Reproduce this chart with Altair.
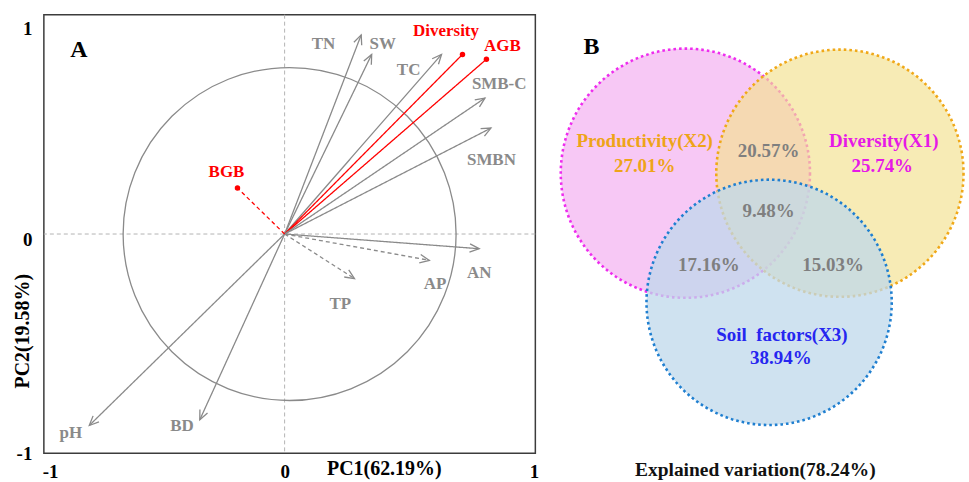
import math
import altair as alt
import pandas as pd

# ---------------- Panel A: PCA biplot ----------------
variables = ["TN", "SW", "TC", "Diversity", "AGB", "SMB-C", "SMBN", "AN", "AP", "TP", "pH", "BD", "BGB"]
pc1 = [0.307, 0.349, 0.629, 0.713, 0.809, 0.803, 0.827, 0.780, 0.580, 0.280, -0.783, -0.340, -0.189]
pc2 = [0.908, 0.819, 0.819, 0.819, 0.797, 0.620, 0.483, -0.067, -0.120, -0.203, -0.873, -0.847, 0.210]
label_pc1 = [0.156, 0.393, 0.497, 0.647, 0.873, 0.860, 0.829, 0.780, 0.603, 0.223, -0.857, -0.411, -0.233]
label_pc2 = [0.867, 0.867, 0.747, 0.926, 0.855, 0.683, 0.339, -0.176, -0.226, -0.317, -0.908, -0.874, 0.285]
response_vars = ["Diversity", "AGB", "BGB"]
dashed_vars = ["AP", "TP", "BGB"]
pc1_title = "PC1(62.19%)"
pc2_title = "PC2(19.58%)"
panel_a = "A"

# ---------------- Panel B: variation partitioning ----------------
venn_sets = ["Productivity(X2)", "Diversity(X1)", "Soil\u00a0 factors(X3)"]
unique_pct = [27.01, 25.74, 38.94]
shared_names = ["X1∩X2", "X1∩X2∩X3", "X2∩X3", "X1∩X3"]
shared_pct = [20.57, 9.48, 17.16, 15.03]
total_pct = 78.24
panel_b = "B"

FONT = "Liberation Serif"
GRAY = "#8a8a8a"
RED = "#ff0000"

# ---------------- Panel A chart ----------------
W_A, H_A = 493, 440
xdom = [-0.965, 1.005]
ydom = [-1.0, 1.0]
xs = alt.Scale(domain=xdom, nice=False, zero=False)
ys = alt.Scale(domain=ydom, nice=False, zero=False)
ppx = W_A / (xdom[1] - xdom[0])
ppy = H_A / (ydom[1] - ydom[0])

ax_x = alt.Axis(values=[-0.94, 0.0, 1.0],
                labelExpr="datum.value < -0.5 ? '-1' : (datum.value > 0.5 ? '1' : '0')",
                title=pc1_title, ticks=False, domain=False, grid=False,
                labelFont=FONT, labelFontWeight="bold", labelFontSize=19, labelColor="black",
                labelPadding=9, labelFlush=False, labelOverlap=False,
                titleFont=FONT, titleFontWeight="bold", titleFontSize=20, titleColor="black",
                titleX=341, titleY=15, titleBaseline="middle", titleAlign="center")
ax_y = alt.Axis(values=[0.935, -0.023, -1.0],
                labelExpr="datum.value > 0.5 ? '1' : (datum.value < -0.5 ? '-1' : '0')",
                title=pc2_title, ticks=False, domain=False, grid=False,
                labelFont=FONT, labelFontWeight="bold", labelFontSize=19, labelColor="black",
                labelPadding=12, labelFlush=False, labelOverlap=False,
                titleFont=FONT, titleFontWeight="bold", titleFontSize=20, titleColor="black",
                titleX=-21, titleY=317, titleBaseline="middle", titleAlign="center", titleAngle=270)

vec = pd.DataFrame({"var": variables, "pc1": pc1, "pc2": pc2,
                    "lx": label_pc1, "ly": label_pc2})
vec["x0"] = 0.0
vec["y0"] = 0.0
vec["group"] = ["response" if v in response_vars else "soil" for v in variables]
vec["linetype"] = ["dashed" if v in dashed_vars else "solid" for v in variables]
vec["angle"] = [(math.degrees(math.atan2(a * ppx, b * ppy)) + 360) % 360 for a, b in zip(pc1, pc2)]

color_scale = alt.Scale(domain=["soil", "response"], range=[GRAY, RED])
dash_scale = alt.Scale(domain=["solid", "dashed"], range=[[1, 0], [4, 3]])

zero_df = pd.DataFrame({"v": [0.0]})
zero_v = alt.Chart(zero_df).mark_rule(color="#b4b4b4", strokeDash=[4, 3], strokeWidth=1).encode(
    x=alt.X("v:Q", scale=xs, axis=ax_x))
zero_h = alt.Chart(zero_df).mark_rule(color="#b4b4b4", strokeDash=[4, 3], strokeWidth=1).encode(
    y=alt.Y("v:Q", scale=ys, axis=ax_y))

circ = alt.Chart(pd.DataFrame({"cx": [0.02], "cy": [0.0]})).mark_point(
    shape="circle", size=334 ** 2, filled=False, color=GRAY, strokeWidth=1.3, opacity=1).encode(
    x=alt.X("cx:Q", scale=xs, axis=ax_x), y=alt.Y("cy:Q", scale=ys, axis=ax_y))

shafts = alt.Chart(vec).mark_rule(strokeWidth=1.3).encode(
    x=alt.X("x0:Q", scale=xs, axis=ax_x), y=alt.Y("y0:Q", scale=ys, axis=ax_y),
    x2="pc1:Q", y2="pc2:Q",
    color=alt.Color("group:N", scale=color_scale, legend=None),
    strokeDash=alt.StrokeDash("linetype:N", scale=dash_scale, legend=None))

heads = alt.Chart(vec).transform_filter(alt.datum.group == "soil").mark_point(
    shape="M-0.42,0.95L0,0L0.42,0.95", size=400, filled=False, strokeWidth=1.3, opacity=1).encode(
    x=alt.X("pc1:Q", scale=xs, axis=ax_x), y=alt.Y("pc2:Q", scale=ys, axis=ax_y),
    angle=alt.Angle("angle:Q", scale=None),
    color=alt.Color("group:N", scale=color_scale, legend=None))

dots = alt.Chart(vec).transform_filter(alt.datum.group == "response").mark_point(
    shape="circle", size=30, filled=True, opacity=1).encode(
    x=alt.X("pc1:Q", scale=xs, axis=ax_x), y=alt.Y("pc2:Q", scale=ys, axis=ax_y),
    color=alt.Color("group:N", scale=color_scale, legend=None))

labels = alt.Chart(vec).mark_text(font=FONT, fontWeight="bold", fontSize=17,
                                  align="center", baseline="middle").encode(
    x=alt.X("lx:Q", scale=xs, axis=ax_x), y=alt.Y("ly:Q", scale=ys, axis=ax_y),
    text="var:N",
    color=alt.Color("group:N", scale=color_scale, legend=None))

tag_a = alt.Chart(pd.DataFrame({"t": [panel_a], "x": [-0.825], "y": [0.838]})).mark_text(
    font=FONT, fontWeight="bold", fontSize=24, color="black", align="center", baseline="middle").encode(
    x=alt.X("x:Q", scale=xs, axis=ax_x), y=alt.Y("y:Q", scale=ys, axis=ax_y), text="t:N")

chart_a = alt.layer(zero_v, zero_h, circ, shafts, heads, dots, labels, tag_a).properties(
    width=W_A, height=H_A, view=alt.ViewBackground(stroke="#3c3c3c", strokeWidth=1.5))

# ---------------- Panel B chart ----------------
W_B, H_B = 419, 470
bx = alt.Scale(domain=[0, W_B], nice=False, zero=False)
by = alt.Scale(domain=[0, H_B], nice=False, zero=False, reverse=True)

circle_specs = [
    # (center x, center y, diameter, fill, fill opacity, stroke)
    (137.5, 159.0, 250, "#f7c8f5", 1.0, "#ee2cee"),
    (292.5, 159.0, 248, "#f3e191", 0.67, "#f0a818"),
    (221.5, 288.5, 246, "#bfd8eb", 0.75, "#1f7fd0"),
]
venn_layers = []
for name, (cx, cy, d, fill, fo, stroke) in zip(venn_sets, circle_specs):
    venn_layers.append(
        alt.Chart(pd.DataFrame({"set": [name], "cx": [cx], "cy": [cy]})).mark_point(
            shape="circle", size=d ** 2, filled=True, fill=fill, fillOpacity=fo,
            stroke=stroke, strokeOpacity=1, strokeWidth=2.6, strokeDash=[2.6, 3.0]).encode(
            x=alt.X("cx:Q", scale=bx, axis=None), y=alt.Y("cy:Q", scale=by, axis=None)))

fmt = lambda v: f"{v:.2f}%"
venn_text = pd.DataFrame({
    "text": [venn_sets[0], fmt(unique_pct[0]), venn_sets[1], fmt(unique_pct[1]),
             fmt(shared_pct[0]), fmt(shared_pct[1]), fmt(shared_pct[2]), fmt(shared_pct[3]),
             venn_sets[2], fmt(unique_pct[2]),
             f"Explained variation({total_pct:.2f}%)", panel_b],
    "role": ["X2", "X2", "X1", "X1", "shared", "shared", "shared", "shared", "X3", "X3", "total", "tag"],
    "tx": [96.7, 96.7, 336.5, 335.0, 221.0, 221.0, 161.0, 285.7, 234.3, 233.3, 207.7, 43.3],
    "ty": [126.3, 151.3, 126.3, 151.3, 137.0, 197.0, 251.3, 251.3, 321.3, 344.7, 456.3, 32.3],
    "fs": [19, 19, 19, 19, 19, 19, 19, 19, 19, 19, 19.5, 24],
})
text_color = alt.Scale(domain=["X2", "X1", "shared", "X3", "total", "tag"],
                       range=["#eea418", "#e619e6", "#7f7f7f", "#2626f0", "#111111", "#000000"])
venn_labels = alt.Chart(venn_text).mark_text(font=FONT, fontWeight="bold",
                                             align="center", baseline="middle").encode(
    x=alt.X("tx:Q", scale=bx, axis=None), y=alt.Y("ty:Q", scale=by, axis=None),
    text="text:N",
    size=alt.Size("fs:Q", scale=None, legend=None),
    color=alt.Color("role:N", scale=text_color, legend=None))

chart_b = alt.layer(*venn_layers, venn_labels).properties(
    width=W_B, height=H_B, view=alt.ViewBackground(strokeWidth=0))

chart = alt.hconcat(chart_a, chart_b, spacing=13, bounds="flush").resolve_scale(
    color="independent", size="independent", strokeDash="independent"
).properties(
    padding={"left": 12, "top": 12, "right": 0, "bottom": 0}
).configure_view(strokeWidth=0).configure(background="white")

chart.save("out.html", embed_options={"renderer": "svg", "actions": False})
